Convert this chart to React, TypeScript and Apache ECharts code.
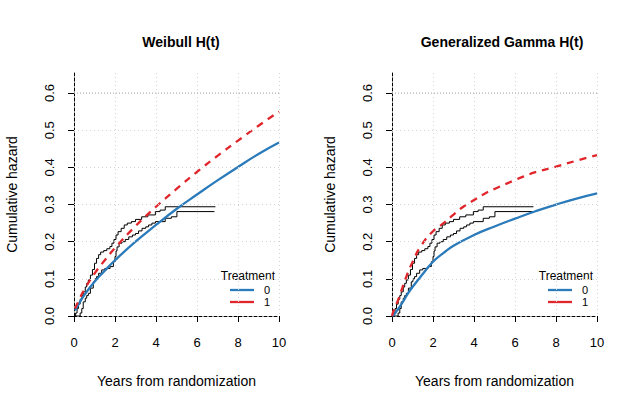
import React, { useEffect, useRef } from "react";
import * as echarts from "echarts";

// ---------- data ----------
const xTicks = [0, 2, 4, 6, 8, 10];
const yTicks = [0, 0.1, 0.2, 0.3, 0.4, 0.5, 0.6];
const yGrid = [0.1, 0.2, 0.3, 0.4, 0.5];
const refLevel = 0.6;
const panelTitles = ["Weibull H(t)", "Generalized Gamma H(t)"];
const legendTitle = "Treatment";
const groups = ["0", "1"];

// Nonparametric cumulative hazard (step functions) - same in both panels
const stepA_t = [0, 0.08, 0.15, 0.22, 0.3, 0.38, 0.45, 0.55, 0.62, 0.7, 0.8, 0.9, 1.0, 1.1, 1.2, 1.3, 1.45, 1.6, 1.75, 1.85, 1.95, 2.05, 2.15, 2.3, 2.45, 2.6, 2.8, 3.0, 3.3, 3.6, 3.97, 4.2, 4.45, 6.9];
const stepA_h = [0, 0.008, 0.02, 0.032, 0.045, 0.055, 0.065, 0.078, 0.088, 0.097, 0.11, 0.125, 0.142, 0.155, 0.165, 0.172, 0.176, 0.181, 0.187, 0.196, 0.206, 0.218, 0.227, 0.236, 0.245, 0.25, 0.254, 0.26, 0.267, 0.272, 0.281, 0.285, 0.294, 0.294];
const stepB_t = [0, 0.3, 0.38, 0.45, 0.55, 0.62, 0.7, 0.8, 0.94, 1.02, 1.1, 1.2, 1.35, 1.5, 1.76, 1.92, 2.0, 2.05, 2.1, 2.2, 2.34, 2.5, 2.67, 2.85, 3.0, 3.15, 3.32, 3.5, 3.64, 3.8, 3.97, 4.45, 4.75, 5.02, 6.85];
const stepB_h = [0, 0.008, 0.02, 0.038, 0.048, 0.055, 0.061, 0.075, 0.092, 0.1, 0.106, 0.115, 0.124, 0.128, 0.133, 0.146, 0.16, 0.175, 0.186, 0.196, 0.2, 0.206, 0.213, 0.218, 0.222, 0.229, 0.236, 0.24, 0.245, 0.25, 0.254, 0.263, 0.267, 0.281, 0.281];

// Weibull fits
const weib_t = [0.05, 0.25, 0.5, 1, 1.5, 2, 3, 4, 5, 6, 7, 8, 9, 10];
const weib0_h = [0.015, 0.034, 0.056, 0.092, 0.122, 0.15, 0.2, 0.245, 0.288, 0.327, 0.365, 0.401, 0.436, 0.467];
const weib1_h = [0.02, 0.044, 0.071, 0.114, 0.15, 0.183, 0.242, 0.294, 0.342, 0.388, 0.431, 0.472, 0.512, 0.55];

// Generalized gamma fits
const gg0_t = [0, 0.1, 0.25, 0.5, 0.75, 1, 1.5, 2, 2.5, 3, 4, 5, 6, 7, 8, 9, 10];
const gg0_h = [0, 0.004, 0.015, 0.035, 0.058, 0.078, 0.113, 0.146, 0.169, 0.189, 0.218, 0.241, 0.262, 0.282, 0.3, 0.316, 0.33];
const gg1_t = [0, 0.1, 0.3, 0.5, 0.7, 1, 1.43, 2, 2.5, 3, 3.48, 4, 4.54, 5, 6, 6.4, 7, 8, 9, 10];
const gg1_h = [0, 0.018, 0.043, 0.075, 0.106, 0.145, 0.19, 0.228, 0.249, 0.273, 0.294, 0.312, 0.33, 0.342, 0.366, 0.375, 0.387, 0.402, 0.418, 0.433];

const BLUE = "#2b7bba";
const RED = "#e0262b";
const FONT = "Liberation Sans";

const zip = (t: number[], h: number[]) => t.map((v, i) => [v, h[i]]);

export default function App() {
  const ref = useRef<HTMLDivElement>(null);
  useEffect(() => {
    document.body.style.margin = "0";
    const chart = echarts.init(ref.current!, null, { renderer: "svg" });
    const grids = [
      { left: 74, right: 355, top: 73, bottom: 93 },
      { left: 392, right: 37, top: 73, bottom: 93 },
    ];
    const fits = [
      [zip(weib_t, weib0_h), zip(weib_t, weib1_h)],
      [zip(gg0_t, gg0_h), zip(gg1_t, gg1_h)],
    ];
    const xAxes: any[] = [];
    const yAxes: any[] = [];
    const series: any[] = [];
    const graphics: any[] = [];
    grids.forEach((g, i) => {
      xAxes.push({
        type: "value", gridIndex: i, min: 0, max: 10, interval: 2,
        name: "Years from randomization", nameLocation: "middle", nameGap: 58,
        nameTextStyle: { fontSize: 14, color: "#000", fontFamily: FONT },
        axisLine: { show: true, onZero: false, lineStyle: { color: "#000", type: [3, 2], width: 1 } },
        axisTick: { show: true, length: 6, lineStyle: { color: "#000" } },
        axisLabel: { fontSize: 13, color: "#000", fontFamily: FONT, margin: 20, customValues: xTicks },
        splitLine: { show: true, lineStyle: { color: "#d4d4d4", type: [1, 3], width: 1 } },
      });
      yAxes.push({
        type: "value", gridIndex: i, min: 0, max: 0.654,
        name: "Cumulative hazard", nameLocation: "middle", nameGap: 55,
        nameTextStyle: { fontSize: 14, color: "#000", fontFamily: FONT },
        axisLine: { show: true, onZero: false, lineStyle: { color: "#000", type: [3, 2], width: 1 } },
        axisTick: { show: true, length: 6, lineStyle: { color: "#000" }, customValues: yTicks },
        axisLabel: {
          fontSize: 13, color: "#000", fontFamily: FONT, rotate: 90, margin: 18,
          customValues: yTicks, formatter: (v: number) => v.toFixed(1),
        },
        splitLine: { show: false },
      });
      series.push({
        type: "line", xAxisIndex: i, yAxisIndex: i, data: [[0, refLevel], [10, refLevel]],
        symbol: "none", silent: true,
        lineStyle: { color: "#b0b0b0", type: [1, 2], width: 1.2 },
        markLine: {
          silent: true, symbol: "none", label: { show: false },
          lineStyle: { color: "#d4d4d4", type: [1, 3], width: 1 },
          data: yGrid.map((v) => ({ yAxis: v })),
        },
      });
      [zip(stepA_t, stepA_h), zip(stepB_t, stepB_h)].forEach((d) =>
        series.push({
          type: "line", xAxisIndex: i, yAxisIndex: i, data: d, step: "end",
          symbol: "none", lineStyle: { color: "#000", width: 1 },
        })
      );
      series.push({
        type: "line", xAxisIndex: i, yAxisIndex: i, data: fits[i][0], smooth: true,
        symbol: "none", lineStyle: { color: BLUE, width: 2.3 },
      });
      series.push({
        type: "line", xAxisIndex: i, yAxisIndex: i, data: fits[i][1], smooth: true,
        symbol: "none", lineStyle: { color: RED, width: 2.3, type: [7, 6] },
      });
      const xr = i === 0 ? 279 : 597;
      graphics.push({
        type: "text", x: xr - 4, y: 276,
        style: { text: legendTitle, fontSize: 12, fontFamily: FONT, fill: "#000", textAlign: "right", textVerticalAlign: "middle" },
      });
      groups.forEach((gname, k) => {
        const yy = 290 + k * 12;
        graphics.push({
          type: "line", shape: { x1: xr - 49, y1: yy, x2: xr - 25, y2: yy },
          style: { stroke: k === 0 ? BLUE : RED, lineWidth: 2.3 },
        });
        graphics.push({
          type: "text", x: xr - 12, y: yy,
          style: { text: gname, fontSize: 11, fontFamily: FONT, fill: "#000", textAlign: "center", textVerticalAlign: "middle" },
        });
      });
    });
    chart.setOption({
      animation: false,
      backgroundColor: "#fff",
      title: panelTitles.map((t, i) => ({
        text: t, left: i === 0 ? 176 : 497, top: 30, textAlign: "center",
        textStyle: { fontSize: 14, fontWeight: "bold", color: "#000", fontFamily: FONT },
      })),
      grid: grids,
      xAxis: xAxes,
      yAxis: yAxes,
      series,
      graphic: graphics,
    });
    return () => chart.dispose();
  }, []);
  return <div ref={ref} style={{ width: 634, height: 409 }} />;
}
